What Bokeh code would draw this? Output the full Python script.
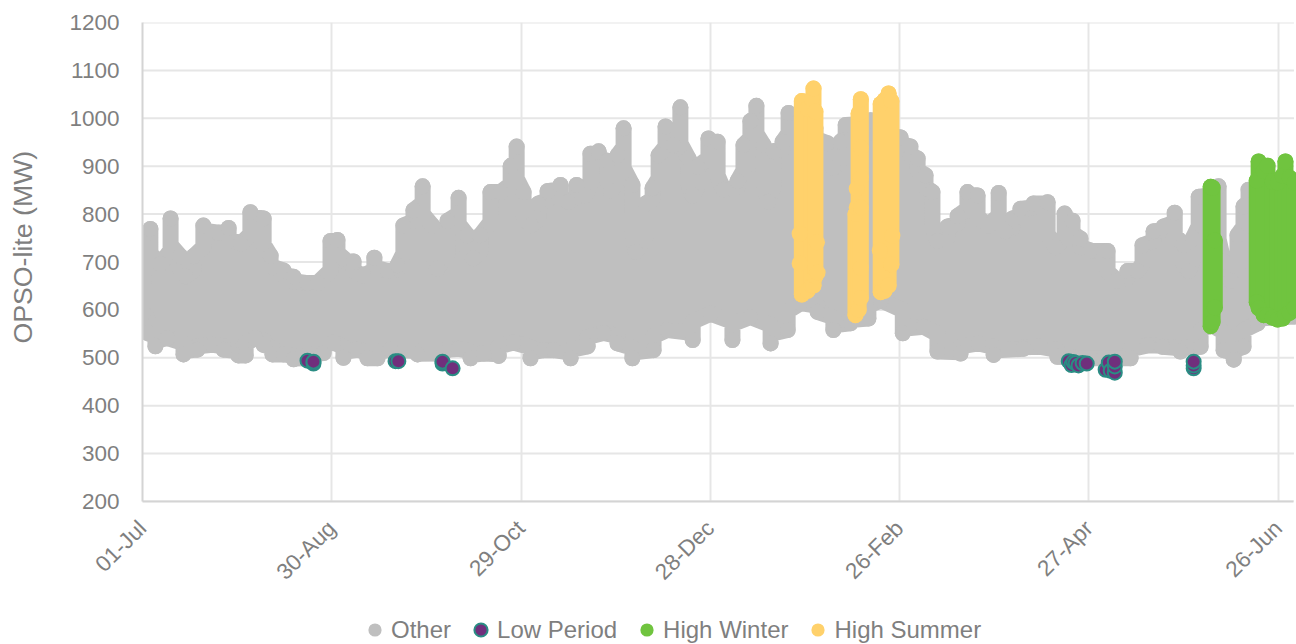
from math import pi
from bokeh.plotting import figure
from bokeh.layouts import column
from bokeh.models import FixedTicker, Legend, LegendItem
from bokeh.embed import file_html
from bokeh.resources import INLINE

x_ticks = [0, 60, 120, 180, 240, 300, 360]
x_labels = ["01-Jul", "30-Aug", "29-Oct", "28-Dec", "26-Feb", "27-Apr", "26-Jun"]
y_ticks = list(range(200, 1300, 100))

other_top_day = [0.3,2.5,5.7,8.9,12,13.6,16.2,19.3,24.1,27.3,31.1,34.2,38.4,40.6,44.7,47.9,52.3,55.5,59.6,61.8,63.7,66.9,70,73.5,77.7,80.8,82.7,85.9,88.8,91.9,93.5,96.7,100.2,103,104.9,107.1,110.3,113.5,116.7,118.6,120.8,123,125.5,128.4,132.5,135,137.6,140.4,142,144.6,147.4,148.4,150.6,152.5,155.3,156.3,159.5,161.7,163.6,165.8,168.3,170.5,173.1,174.4,175.9,179.4,182.3,184.2,188.6,190.5,192.7,194.6,196.9,198.4,200,202.9,204.8,208.6,213.3,217.1,219,221.3,222.9,230.8,240.3,243.4,245.7,248.2,250.4,252,255.2,258.4,261.5,264.7,267.9,271.4,273.6,275.8,278.3,282.4,286.9,289.4,292.3,294.8,297.3,300.5,305.9,309,312.2,315.4,317,320.5,323.7,327.2,330,331.6,332.9,334.8,341.1,342.7,344.9,347.1,349,350.6,365.8]
other_top_mw = [739,769,696,791,712,670,712,776,761,771,738,804,791,713,682,669,656,656,744,746,708,701,672,709,681,693,776,808,858,776,686,786,834,756,708,756,846,846,900,941,846,776,822,848,861,826,861,839,926,931,911,848,923,979,861,721,822,854,923,983,944,1023,916,839,899,958,951,851,869,944,994,1026,944,826,931,951,1011,1000,980,948,896,951,986,996,960,941,916,881,846,744,774,796,846,839,776,844,764,791,811,822,825,731,801,786,749,724,723,661,681,681,735,764,774,803,736,681,749,836,858,701,661,756,816,851,800]
other_low_day = [0.3,1.6,4.1,7.9,13,17.4,22.2,25.7,30.4,32.7,35.8,38.4,41.2,44.7,47.9,52.3,57.4,60.5,63.7,68.2,71.3,74.5,78.6,87.2,95.4,100.2,104,108.1,112.9,117.6,123,127.1,130.3,135.7,141.1,146.1,150.6,155.3,162,166.4,174.4,180.1,187,192.7,199.1,204.5,208.6,214,219,224.4,230.1,234,241,247.6,252,259.3,265,269.8,279.3,284.7,290,295.1,304.6,313.2,318.6,323.3,329,335.4,338.6,342.7,345.9,349,353.5,364.9]
other_low_mw = [594,552,524,541,507,517,527,517,505,505,541,527,507,507,497,499,510,532,500,517,499,499,517,507,509,519,499,509,504,532,499,516,516,499,524,552,530,499,516,558,537,592,537,585,530,558,614,596,558,572,582,620,551,565,513,509,530,506,519,523,502,499,499,499,526,523,513,523,570,516,496,523,572,586]

low_period_day = [52.3,54.2,54.2,80.2,81.1,95.1,95.1,98.3,293.6,294.5,295.1,295.8,296.7,298,299.3,305.3,306.3,306.9,308.2,308.2,308.2,333.2,333.2,333.2]
low_period_mw = [494,488,492,493,493,488,492,478,493,485,491,489,484,489,488,475,490,473,469,482,492,478,484,492]

winter_day = [338.6,339.2,339.9,353.2,353.8,355.4,356.6,358.2,359.8,361.4,362.3,363.6,365.2]
winter_low = [566,575,605,616,604,589,589,584,580,582,589,594,604]
winter_high = [857,855,745,870,910,890,901,868,866,880,910,876,866]

summer_day = [209,210.8,212.1,212.7,213.3,226,227,227.7,234,235.2,236.5,237.4]
summer_low = [632,640,650,651,670,589,600,625,637,640,651,695]
summer_high = [1036,1020,1040,1062,1014,800,1010,1040,1030,1038,1052,1036]
summer_edge_day = [208.3,208.3,214,213.8,226.4,226.4,227.7,227.7,227.7,227.7,233.7,237.7]
summer_edge_mw = [759,697,678,741,853,814,939,876,814,688,724,755]

GREY, TEAL, PURPLE, GREEN, YELLOW = "#bfbfbf", "#2a8d84", "#702f7c", "#70c43f", "#ffd16b"
TXT = "#7f7f7f"
FONT = "Liberation Sans"


def outline(days, vals, sign):
    """Steep columns with gently sloping shelves between neighbouring readings."""
    xs, ys = [], []
    for i in range(len(days)):
        xs.append(days[i]); ys.append(vals[i])
        if i + 1 < len(days):
            a, b = vals[i], vals[i + 1]
            if sign * (a - b) > 0:
                xs.append(days[i]); ys.append(b + 0.3 * (a - b))
            else:
                xs.append(days[i + 1]); ys.append(a + 0.3 * (b - a))
    return xs, ys


p = figure(width=1296, height=610, frame_width=1154, frame_height=479,
           x_range=(0, 365.8), y_range=(200, 1200),
           output_backend="svg", toolbar_location=None,
           min_border_left=142, min_border_right=0, min_border_top=22, min_border_bottom=109)
p.outline_line_color = None
p.background_fill_color = "white"

p.ygrid.visible = False
p.xgrid.ticker = FixedTicker(ticks=x_ticks)
p.xgrid.grid_line_color = "#e6e6e6"
p.xgrid.grid_line_width = 2
p.segment(x0=[0]*len(y_ticks), x1=[365]*len(y_ticks), y0=y_ticks, y1=y_ticks,
          line_color="#e6e6e6", line_width=2, level="underlay")

p.xaxis.ticker = FixedTicker(ticks=x_ticks)
p.xaxis.major_label_overrides = dict(zip(x_ticks, x_labels))
p.xaxis.major_label_orientation = pi/4
p.xaxis.bounds = (0, 365)
p.yaxis.ticker = FixedTicker(ticks=y_ticks)
for ax in (p.xaxis[0], p.yaxis[0]):
    ax.axis_line_color = "#d4d4d4"
    ax.axis_line_width = 2
    ax.major_tick_line_color = None
    ax.minor_tick_line_color = None
    ax.major_label_text_color = TXT
    ax.major_label_text_font = FONT
    ax.major_label_text_font_size = "22.5px"
p.xaxis.major_label_standoff = 17
p.yaxis.major_label_standoff = 17
p.yaxis.axis_label = "\u00a0\u00a0\u00a0\u00a0OPSO-lite (MW)"
p.yaxis.axis_label_text_color = TXT
p.yaxis.axis_label_text_font = FONT
p.yaxis.axis_label_text_font_style = "normal"
p.yaxis.axis_label_text_font_size = "26.7px"
p.yaxis.axis_label_standoff = 28

# Other
tx, ty = outline(other_top_day, other_top_mw, 1)
bx, by = outline(other_low_day, other_low_mw, -1)
p.patch(tx + bx[::-1], ty + by[::-1],
        fill_color=GREY, line_color=GREY, line_width=16, line_join="round")
p.scatter(other_top_day, other_top_mw, size=16, fill_color=GREY, line_color=None)
p.scatter(other_low_day, other_low_mw, size=16, fill_color=GREY, line_color=None)

# Low period
p.scatter(low_period_day, low_period_mw, size=14, fill_color=PURPLE,
          line_color=TEAL, line_width=2)

# High Winter
p.segment(winter_day, winter_low, winter_day, winter_high, line_color=GREEN,
          line_width=16, line_cap="round")
p.scatter(winter_day, winter_high, size=16, fill_color=GREEN, line_color=None)
p.scatter(winter_day, winter_low, size=16, fill_color=GREEN, line_color=None)

# High Summer
p.segment(summer_day, summer_low, summer_day, summer_high, line_color=YELLOW,
          line_width=16, line_cap="round")
p.scatter(summer_day, summer_high, size=16, fill_color=YELLOW, line_color=None)
p.scatter(summer_day, summer_low, size=16, fill_color=YELLOW, line_color=None)
p.scatter(summer_edge_day, summer_edge_mw, size=16, fill_color=YELLOW, line_color=None)

# Legend strip: a figure of its own beneath the chart; its ranges keep the series out of view
q = figure(width=1296, height=34, x_range=(1000, 1100), y_range=(2000, 2100),
           output_backend="svg", toolbar_location=None,
           min_border_left=0, min_border_right=0, min_border_top=0, min_border_bottom=0)
q.axis.visible = False
q.grid.visible = False
q.outline_line_color = None
r_other = q.scatter(other_top_day, other_top_mw, fill_color=GREY, line_color=None)
r_low = q.scatter(low_period_day, low_period_mw, fill_color=PURPLE,
                  line_color=TEAL, line_width=2)
r_win = q.scatter(winter_day, winter_high, fill_color=GREEN, line_color=None)
r_sum = q.scatter(summer_day, summer_high, fill_color=YELLOW, line_color=None)

legend = Legend(items=[LegendItem(label="Other", renderers=[r_other]),
                       LegendItem(label="Low Period", renderers=[r_low]),
                       LegendItem(label="High Winter", renderers=[r_win]),
                       LegendItem(label="High Summer", renderers=[r_sum])],
                orientation="horizontal", location=(216, -2),
                border_line_color=None, background_fill_alpha=0,
                label_text_color=TXT, label_text_font=FONT, label_text_font_size="24px",
                glyph_width=33, glyph_height=33, label_standoff=0, spacing=13,
                margin=0, padding=0)
q.add_layout(legend, "center")

page = column(p, q, spacing=0)
open("out.html", "w").write(file_html(page, INLINE))
